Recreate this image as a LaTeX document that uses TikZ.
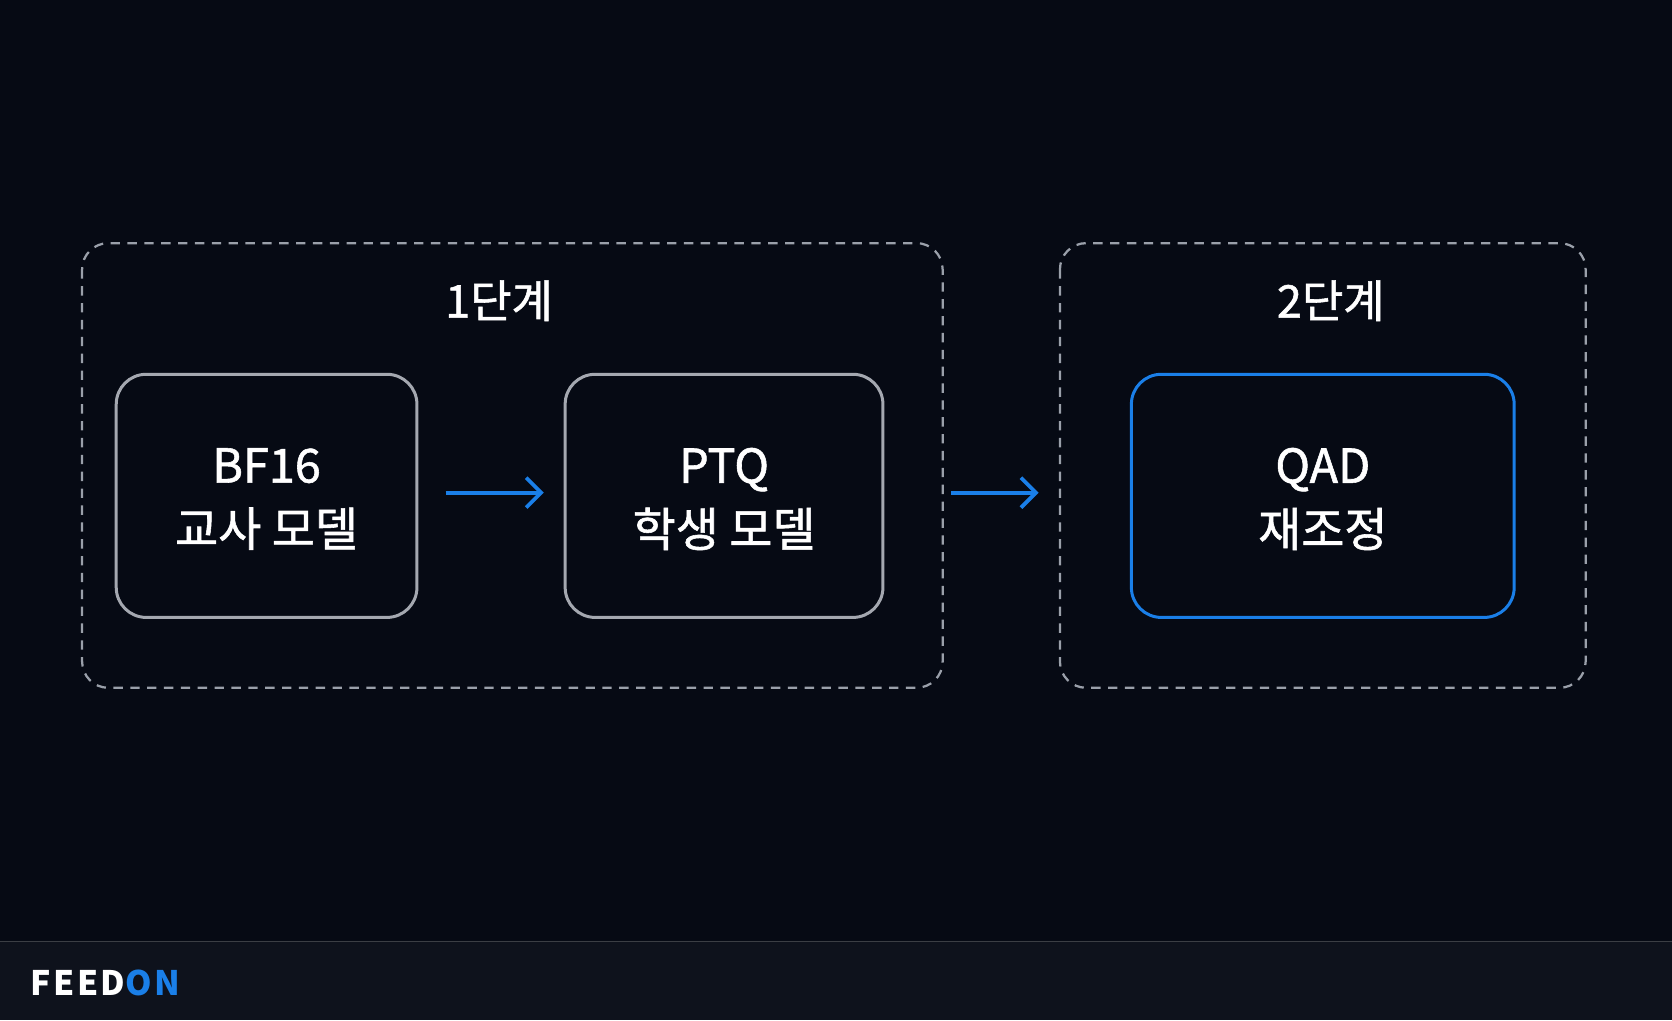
\documentclass[tikz,border=0pt]{standalone}
\usepackage{fontspec}
\setmainfont{Noto Sans CJK KR}[FakeBold=1.2]
\newfontfamily\logofont{Noto Sans CJK KR}[LetterSpace=8]
\usetikzlibrary{arrows.meta}
\definecolor{bg}{HTML}{060A14}
\definecolor{foot}{HTML}{0E121C}
\definecolor{dash}{HTML}{9AA0AA}
\definecolor{gbox}{HTML}{A4A8B0}
\definecolor{blu}{HTML}{1A7FE8}
\begin{document}
\begin{tikzpicture}[x=0.02cm,y=-0.02cm,
  stage/.style={draw=dash,dashed,line width=1.2pt,dash pattern=on 5pt off 4pt,rounded corners=14pt},
  box/.style={draw=gbox,line width=1.6pt,rounded corners=16pt},
  lbl/.style={text=white,font=\fontsize{25}{34}\selectfont,align=center},
  head/.style={text=white,font=\fontsize{24}{28}\selectfont},
  arr/.style={draw=blu,line width=2pt,-{Straight Barb[length=8pt,width=16pt,line width=2pt]}}]
\fill[bg] (0,0) rectangle (1568,957);
\useasboundingbox (0,0) rectangle (1568,957);
\fill[foot] (0,883) rectangle (1568,957);
\draw[color=gray!40!foot,line width=0.8pt] (0,883) -- (1568,883);
\node[anchor=west,font=\logofont\fontsize{18}{20}\selectfont\bfseries] (logo) at (22,922) {\textcolor{white}{FEED}\textcolor{blu}{ON}};
\draw[stage] (77,228) rectangle (884,645);
\draw[stage] (994,228) rectangle (1487,645);
\node[head] (h1) at (468,282) {1단계};
\node[head] (h2) at (1248,282) {2단계};
\node[box,minimum width=282*0.02cm,minimum height=228*0.02cm] (a) at (250,465) {};
\node[box,minimum width=298*0.02cm,minimum height=228*0.02cm] (b) at (679,465) {};
\node[box,draw=blu,minimum width=359*0.02cm,minimum height=228*0.02cm] (c) at (1240.5,465) {};
\node[lbl] at (250,468) {BF16\\교사 모델};
\node[lbl] at (679,468) {PTQ\\학생 모델};
\node[lbl] at (1240.5,468) {QAD\\재조정};
\coordinate (s1) at (418,462); \coordinate (e1) at (510,462);
\coordinate (s2) at (892,462); \coordinate (e2) at (974,462);
\draw[arr] (s1) -- (e1);
\draw[arr] (s2) -- (e2);
\end{tikzpicture}
\end{document}
